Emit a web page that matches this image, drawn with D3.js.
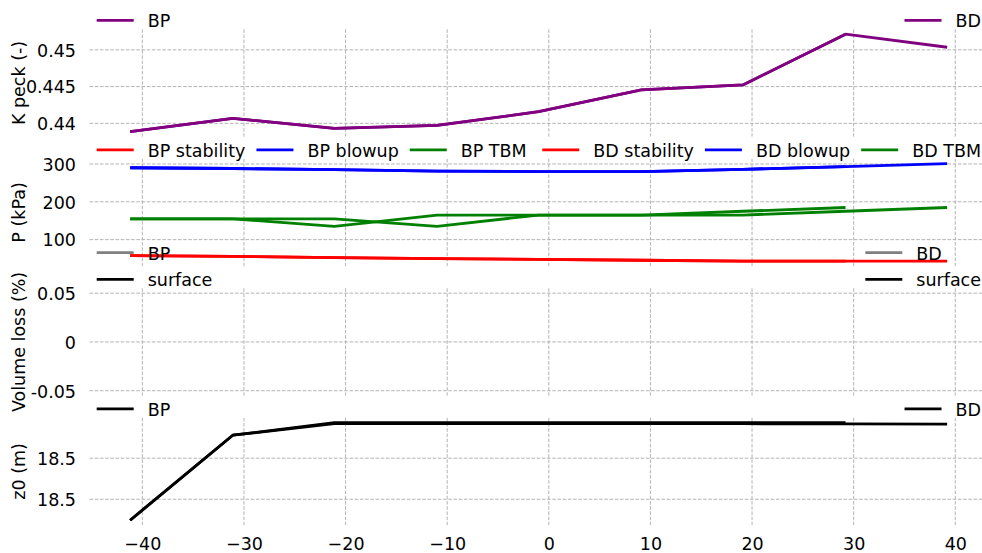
<!DOCTYPE html>
<html>
<head>
<meta charset="utf-8">
<script src="https://cdn.jsdelivr.net/npm/d3@7"></script>
<style>
  html, body { margin: 0; padding: 0; background: #fff; }
  svg { display: block; font-family: "DejaVu Sans", sans-serif; }
</style>
</head>
<body>
<svg id="chart" width="982" height="553"></svg>
<script>
// Ring positions along the drive (shared x axis)
const xBP = [-41.2, -31.1, -21.1, -11.0, -1.0, 9.1, 19.1, 29.2];
const xBD = [-41.2, -31.1, -21.1, -11.0, -1.0, 9.1, 19.1, 29.2, 39.2];
const xTicks = [-40, -30, -20, -10, 0, 10, 20, 30, 40];

// K peck (-)
const kPeckBP = [0.43886, 0.44068, 0.43932, 0.43973, 0.44158, 0.44454, 0.44522, 0.45213];
const kPeckBD = [0.43886, 0.44068, 0.43932, 0.43973, 0.44158, 0.44454, 0.44522, 0.45213, 0.45035];
const kTicks = [0.44, 0.445, 0.45];

// Face pressures (kPa)
const stabilityBP = [57.9, 55.5, 52.6, 50.0, 47.6, 45.5, 43.4, 42.9];
const blowupBP    = [290, 288, 285, 281, 280, 280, 286, 293];
const tbmBP       = [155, 155, 135, 165, 165, 165, 175, 185];
const stabilityBD = [57.9, 55.5, 52.6, 50.0, 47.6, 45.5, 43.4, 42.9, 42.9];
const blowupBD    = [290, 288, 285, 281, 280, 280, 286, 293, 300.8];
const tbmBD       = [155, 155, 155, 135, 165, 165, 165, 175, 185];
const pTicks = [100, 200, 300];

// Volume loss (%) - no readings recorded
const volLossBP = [];
const volLossBD = [];
const volLossSurface = [];
const vTicks = [-0.05, 0, 0.05];

// Tunnel axis depth z0 (m)
const z0BP = [18.4798, 18.5212, 18.5273, 18.5273, 18.5273, 18.5273, 18.5273, 18.5273];
const z0BD = [18.4798, 18.5212, 18.5268, 18.5268, 18.5268, 18.5268, 18.5268, 18.5267, 18.5266];
const zTicks = [18.49, 18.51];

const svg = d3.select("#chart");
const FS = 17.5;
const axLeft = 89.5, axRight = 988.8;
const panelTop0 = 29.3, panelH = 107.3, panelGap = 22.2;

const x = d3.scaleLinear().domain([-45.2, 43.3]).range([axLeft, axRight]);

function padded(values) {
  const [lo, hi] = d3.extent(values);
  const p = (hi - lo) * 0.05;
  return [lo - p, hi + p];
}

const panels = [
  { label: "K peck (-)", ticks: kTicks, fmt: d => String(d),
    series: [
      { xs: xBP, ys: kPeckBP, color: "#800080" },
      { xs: xBD, ys: kPeckBD, color: "#800080" }
    ],
    legendL: [[{ name: "BP", color: "#800080" }]],
    legendR: [[{ name: "BD", color: "#800080" }]] },
  { label: "P (kPa)", ticks: pTicks, fmt: d => String(d),
    series: [
      { xs: xBP, ys: stabilityBP, color: "#ff0000" },
      { xs: xBP, ys: blowupBP, color: "#0000ff" },
      { xs: xBP, ys: tbmBP, color: "#008000" },
      { xs: xBD, ys: stabilityBD, color: "#ff0000" },
      { xs: xBD, ys: blowupBD, color: "#0000ff" },
      { xs: xBD, ys: tbmBD, color: "#008000" }
    ],
    legendL: [[{ name: "BP stability", color: "#ff0000" }, { name: "BP blowup", color: "#0000ff" }, { name: "BP TBM", color: "#008000" }]],
    legendR: [[{ name: "BD stability", color: "#ff0000" }, { name: "BD blowup", color: "#0000ff" }, { name: "BD TBM", color: "#008000" }]] },
  { label: "Volume loss (%)", ticks: vTicks, fmt: d => String(d), fixedDomain: [-0.055, 0.055],
    series: [
      { xs: xBP, ys: volLossBP, color: "#808080" },
      { xs: xBD, ys: volLossBD, color: "#808080" },
      { xs: xBD, ys: volLossSurface, color: "#000000" }
    ],
    legendL: [[{ name: "BP", color: "#808080" }], [{ name: "surface", color: "#000000" }]],
    legendR: [[{ name: "BD", color: "#808080" }], [{ name: "surface", color: "#000000" }]] },
  { label: "z0 (m)", ticks: zTicks, fmt: d3.format(".1f"),
    series: [
      { xs: xBP, ys: z0BP, color: "#000000" },
      { xs: xBD, ys: z0BD, color: "#000000" }
    ],
    legendL: [[{ name: "BP", color: "#000000" }]],
    legendR: [[{ name: "BD", color: "#000000" }]] }
];

const gridColor = "#ababab";
const gridDash = "3.6,1.6";
const lineW = 2.8;

// measure text widths for legend layout
const measurer = svg.append("text").attr("font-size", FS).attr("visibility", "hidden");
function textW(s) { measurer.text(s); return measurer.node().getComputedTextLength(); }

const gridLayer = svg.append("g");
const lineLayer = svg.append("g");
const textLayer = svg.append("g");

panels.forEach((p, i) => {
  const top = panelTop0 + i * (panelH + panelGap);
  const bottom = top + panelH;
  const all = p.series.flatMap(s => s.ys);
  const dom = p.fixedDomain || padded(all);
  const y = d3.scaleLinear().domain(dom).range([bottom, top]);

  // grid
  const g = gridLayer.append("g");
  g.selectAll(".hg").data(p.ticks).join("line")
    .attr("x1", axLeft).attr("x2", axRight)
    .attr("y1", d => y(d)).attr("y2", d => y(d))
    .attr("stroke", gridColor).attr("stroke-width", 0.9).attr("stroke-dasharray", gridDash);
  g.selectAll(".vg").data(xTicks).join("line")
    .attr("x1", d => x(d)).attr("x2", d => x(d))
    .attr("y1", top).attr("y2", bottom)
    .attr("stroke", gridColor).attr("stroke-width", 0.9).attr("stroke-dasharray", gridDash);

  // y axis (no spine, no tick marks)
  const yAxis = d3.axisLeft(y).tickValues(p.ticks).tickFormat(p.fmt).tickSize(0).tickPadding(0);
  const ya = textLayer.append("g").attr("transform", `translate(76,0)`).call(yAxis);
  ya.select(".domain").remove();
  ya.selectAll("text").attr("font-size", FS).attr("font-family", "DejaVu Sans, sans-serif")
    .attr("fill", "#000").attr("dy", "0.36em").attr("x", 0);

  // y label
  textLayer.append("text")
    .attr("transform", `translate(25,${(top + bottom) / 2}) rotate(-90)`)
    .attr("text-anchor", "middle").attr("font-size", FS).attr("fill", "#000")
    .text(p.label);

  // series
  p.series.forEach(s => {
    if (!s.ys.length) return;
    const pts = s.ys.map((v, k) => [s.xs[k], v]);
    lineLayer.append("path")
      .attr("d", d3.line().x(d => x(d[0])).y(d => y(d[1]))(pts))
      .attr("fill", "none").attr("stroke", s.color).attr("stroke-width", lineW)
      .attr("stroke-linejoin", "round");
  });

  // legends above the panel
  const rowH = 26.7;
  const lastRowY = top - 9;
  const nRows = p.legendL.length;
  const handleLen = 37, handleGap = 14, colGap = 11;
  const leg = textLayer.append("g");

  p.legendL.forEach((row, r) => {
    const ry = lastRowY - (nRows - 1 - r) * rowH;
    let cx = 96.7;
    row.forEach(it => {
      leg.append("line").attr("x1", cx).attr("x2", cx + handleLen).attr("y1", ry).attr("y2", ry)
        .attr("stroke", it.color).attr("stroke-width", lineW);
      const tx = cx + handleLen + handleGap;
      leg.append("text").attr("x", tx).attr("y", ry + 7).attr("font-size", FS).attr("fill", "#000").text(it.name);
      cx = tx + textW(it.name) + colGap;
    });
  });

  p.legendR.forEach((row, r) => {
    const ry = lastRowY - (nRows - 1 - r) * rowH;
    const widest = d3.max(p.legendR.flat(), it => textW(it.name));
    let cursor = 981;
    const items = row.slice().reverse();
    items.forEach(it => {
      const w = p.legendR.length > 1 ? widest : textW(it.name);
      const tx = cursor - w;
      const hx = tx - handleGap - handleLen;
      leg.append("line").attr("x1", hx).attr("x2", hx + handleLen).attr("y1", ry).attr("y2", ry)
        .attr("stroke", it.color).attr("stroke-width", lineW);
      leg.append("text").attr("x", tx).attr("y", ry + 7).attr("font-size", FS).attr("fill", "#000").text(it.name);
      cursor = hx - colGap;
    });
  });

  // shared x axis labels under the last panel
  if (i === panels.length - 1) {
    const xAxis = d3.axisBottom(x).tickValues(xTicks).tickFormat(d => d3.format("d")(d).replace("-", "\u2212"))
      .tickSize(0).tickPadding(0);
    const xa = textLayer.append("g").attr("transform", `translate(0,${bottom})`).call(xAxis);
    xa.select(".domain").remove();
    xa.selectAll("text").attr("font-size", FS).attr("font-family", "DejaVu Sans, sans-serif")
      .attr("fill", "#000").attr("dy", null).attr("y", 24.5);
  }
});
measurer.remove();
</script>
</body>
</html>
